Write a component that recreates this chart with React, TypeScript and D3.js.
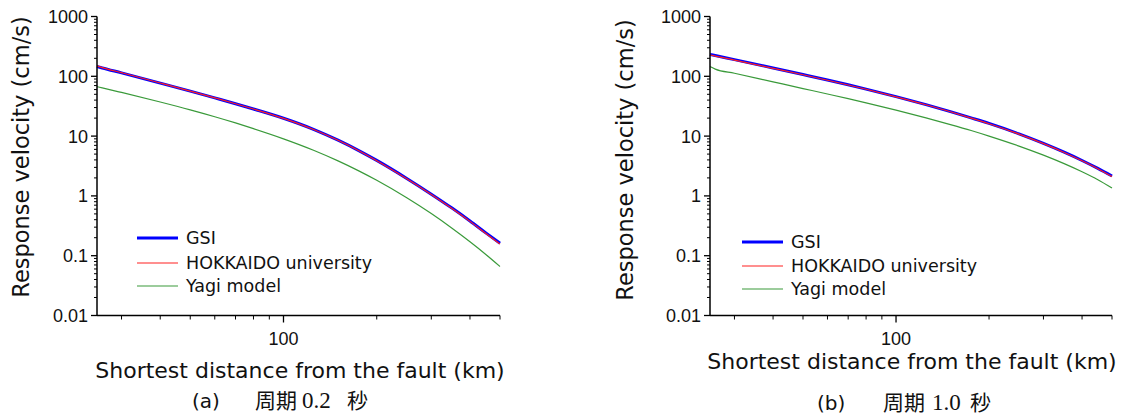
import React from 'react';
import * as d3 from 'd3';

// ---- data ----
const distances = [25, 26, 30, 40, 50, 60, 70, 80, 100, 125, 150, 175, 200, 250, 300, 350, 400, 450, 500];

// (a) period 0.2 s
const gsiA = [146, 138, 114, 76.9, 56.4, 43.5, 34.8, 28.4, 19.9, 13.0, 8.55, 5.73, 3.92, 1.96, 1.07, 0.625, 0.381, 0.241, 0.162];
const hokA = [149, 140, 115, 77.3, 56.6, 43.6, 34.8, 28.4, 19.8, 12.9, 8.5, 5.7, 3.88, 1.94, 1.06, 0.615, 0.375, 0.236, 0.157];
const yagiA = [67, 64, 53.7, 37.2, 27.5, 21.1, 16.6, 13.3, 9.0, 5.8, 3.85, 2.62, 1.82, 0.93, 0.506, 0.288, 0.171, 0.105, 0.066];

// (b) period 1.0 s
const gsiB = [232, 222, 190, 138, 107, 86.7, 72.1, 61.1, 45.7, 33.6, 25.7, 20.2, 16.3, 10.9, 7.55, 5.38, 3.91, 2.88, 2.15];
const hokB = [227, 218, 187, 136, 106, 86, 71.6, 60.7, 45.4, 33.4, 25.5, 20.0, 16.1, 10.8, 7.48, 5.33, 3.87, 2.85, 2.1];
const yagiB = [146, 132, 112.5, 80.7, 62.4, 50.6, 42.3, 36.0, 27.2, 20.2, 15.6, 12.4, 10.0, 6.81, 4.8, 3.46, 2.53, 1.86, 1.35];

const xDomain = [25, 500];
const yDomain = [0.01, 1000];
const yTickValues = [1000, 100, 10, 1, 0.1, 0.01];
const yTickLabels = ['1000', '100', '10', '1', '0.1', '0.01'];
const xTickValues = [100];
const xTickLabels = ['100'];
const seriesNames = ['GSI', 'HOKKAIDO university', 'Yagi model'];
const captionA = ['(a)', '周期', '0.2', '秒'];
const captionB = ['(b)', '周期', '1.0', '秒'];
const xTitle = 'Shortest distance from the fault (km)';
const yTitle = 'Response velocity (cm/s)';

// ---- styles / layout ----
const seriesStyles = [
  { color: '#0000ff', width: 3 },
  { color: '#ff2020', width: 1.2 },
  { color: '#3a9a3a', width: 1.2 },
];
const captionFonts = ['DejaVu Sans', 'Noto Sans CJK JP', 'Liberation Serif', 'Noto Sans CJK JP'];
const captionSizes = [20, 21, 23, 21];

type Layout = {
  x0: number; x1: number; yTop: number; yBottom: number;
  yTitleX: number; yTitleY: number; xTitleX: number; xTitleY: number;
  legX0: number; legX1: number; legTextX: number; legY: number[];
  capXs: number[]; capY: number;
};

const layoutA: Layout = {
  x0: 97, x1: 500, yTop: 16.5, yBottom: 315.5,
  yTitleX: 29, yTitleY: 157, xTitleX: 300, xTitleY: 378,
  legX0: 137, legX1: 178, legTextX: 186, legY: [238, 263, 286],
  capXs: [192, 255, 302, 347], capY: 408,
};
const layoutB: Layout = {
  x0: 710, x1: 1112, yTop: 16.5, yBottom: 315.5,
  yTitleX: 633, yTitleY: 160, xTitleX: 912, xTitleY: 369,
  legX0: 742, legX1: 783, legTextX: 791, legY: [242, 266, 289],
  capXs: [817, 883, 932, 970], capY: 410,
};

const TXT = '#111';

function Panel({ layout, series, caption }: { layout: Layout; series: number[][]; caption: string[] }) {
  const x = d3.scaleLog().domain(xDomain).range([layout.x0, layout.x1]);
  const y = d3.scaleLog().domain(yDomain).range([layout.yBottom, layout.yTop]);
  const line = d3
    .line<[number, number]>()
    .x((d) => x(d[0]))
    .y((d) => y(d[1]))
    .curve(d3.curveMonotoneX);

  const isMajorY = (t: number) => yTickValues.some((v) => Math.abs(v - t) / v < 1e-6);
  const yMinor = y.ticks().filter((t) => !isMajorY(t));
  const xMinor = x.ticks().filter((t) => !xTickValues.some((v) => Math.abs(v - t) / v < 1e-6));

  return (
    <g>
      {/* curves */}
      {series.map((s, i) => (
        <path
          key={'s' + i}
          d={line(distances.map((dd, k) => [dd, s[k]] as [number, number])) || ''}
          fill="none"
          stroke={seriesStyles[i].color}
          strokeWidth={seriesStyles[i].width}
          strokeLinejoin="round"
        />
      ))}

      {/* y axis */}
      <line x1={layout.x0} x2={layout.x0} y1={layout.yTop} y2={layout.yBottom} stroke="#000" strokeWidth={1.5} />
      {yTickValues.map((v, i) => (
        <g key={'yt' + i}>
          <line x1={layout.x0 - 6} x2={layout.x0} y1={y(v)} y2={y(v)} stroke="#000" strokeWidth={1.3} />
          <text
            x={layout.x0 - 9}
            y={y(v)}
            dy="0.36em"
            textAnchor="end"
            fontFamily="Liberation Sans, Arial, sans-serif"
            fontSize={18}
            fill={TXT}
          >
            {yTickLabels[i]}
          </text>
        </g>
      ))}
      {yMinor.map((v, i) => (
        <line key={'ym' + i} x1={layout.x0 - 3} x2={layout.x0} y1={y(v)} y2={y(v)} stroke="#000" strokeWidth={1} />
      ))}

      {/* x axis */}
      <line x1={layout.x0} x2={layout.x1} y1={layout.yBottom} y2={layout.yBottom} stroke="#000" strokeWidth={1.5} />
      {xTickValues.map((v, i) => (
        <g key={'xt' + i}>
          <line x1={x(v)} x2={x(v)} y1={layout.yBottom} y2={layout.yBottom + 7} stroke="#000" strokeWidth={1.3} />
          <text
            x={x(v)}
            y={345}
            textAnchor="middle"
            fontFamily="Liberation Sans, Arial, sans-serif"
            fontSize={18}
            fill={TXT}
          >
            {xTickLabels[i]}
          </text>
        </g>
      ))}
      {xMinor.map((v, i) => (
        <line key={'xm' + i} x1={x(v)} x2={x(v)} y1={layout.yBottom} y2={layout.yBottom + 4} stroke="#000" strokeWidth={1} />
      ))}

      {/* titles */}
      <text
        transform={`translate(${layout.yTitleX},${layout.yTitleY}) rotate(-90)`}
        textAnchor="middle"
        fontFamily="DejaVu Sans, sans-serif"
        fontSize={22.5}
        fill={TXT}
      >
        {yTitle}
      </text>
      <text
        x={layout.xTitleX}
        y={layout.xTitleY}
        textAnchor="middle"
        fontFamily="DejaVu Sans, sans-serif"
        fontSize={22}
        fill={TXT}
      >
        {xTitle}
      </text>

      {/* legend */}
      {seriesNames.map((name, i) => (
        <g key={'lg' + i}>
          <line
            x1={layout.legX0}
            x2={layout.legX1}
            y1={layout.legY[i]}
            y2={layout.legY[i]}
            stroke={seriesStyles[i].color}
            strokeWidth={seriesStyles[i].width}
          />
          <text
            x={layout.legTextX}
            y={layout.legY[i]}
            dy="0.36em"
            fontFamily="DejaVu Sans, sans-serif"
            fontSize={17.5}
            fill={TXT}
          >
            {name}
          </text>
        </g>
      ))}

      {/* caption */}
      <text y={layout.capY} fill={TXT}>
        {caption.map((c, i) => (
          <tspan key={'c' + i} x={layout.capXs[i]} fontFamily={captionFonts[i]} fontSize={captionSizes[i]}>
            {c}
          </tspan>
        ))}
      </text>
    </g>
  );
}

export default function App() {
  return (
    <svg
      width={1127}
      height={416}
      viewBox="0 0 1127 416"
      style={{ position: 'absolute', left: 0, top: 0, display: 'block', background: '#fff' }}
    >
      <rect x={0} y={0} width={1127} height={416} fill="#fff" />
      <Panel layout={layoutA} series={[gsiA, hokA, yagiA]} caption={captionA} />
      <Panel layout={layoutB} series={[gsiB, hokB, yagiB]} caption={captionB} />
    </svg>
  );
}
